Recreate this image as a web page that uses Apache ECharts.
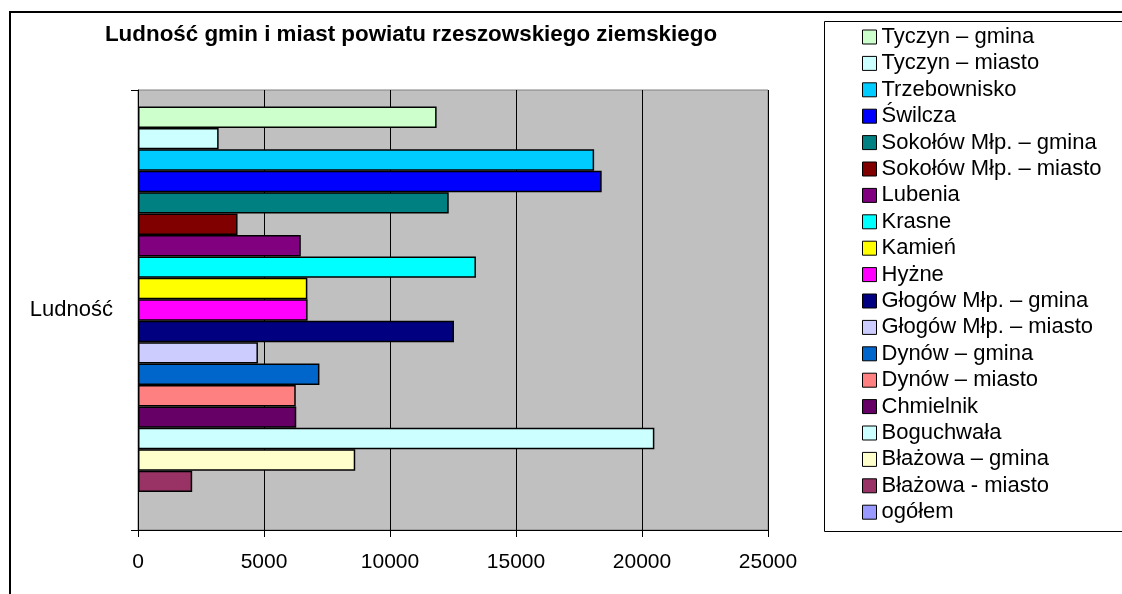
<!DOCTYPE html>
<html>
<head>
<meta charset="utf-8">
<script src="https://cdn.jsdelivr.net/npm/echarts@6/dist/echarts.min.js"></script>
<style>
html,body{margin:0;padding:0;background:#fff;}
#c{width:1122px;height:594px;}
</style>
</head>
<body>
<div id="c"></div>
<script>
var titleText = 'Ludność gmin i miast powiatu rzeszowskiego ziemskiego';
var categories = ['Ludność'];
// legend order (top to bottom), same as bar order top to bottom
var seriesNames = ['Tyczyn – gmina','Tyczyn – miasto','Trzebownisko','Świlcza','Sokołów Młp. – gmina','Sokołów Młp. – miasto','Lubenia','Krasne','Kamień','Hyżne','Głogów Młp. – gmina','Głogów Młp. – miasto','Dynów – gmina','Dynów – miasto','Chmielnik','Boguchwała','Błażowa – gmina','Błażowa - miasto','ogółem'];
var seriesValues = [11850, 3200, 18100, 18400, 12330, 3950, 6460, 13410, 6720, 6730, 12540, 4760, 7200, 6260, 6280, 20490, 8620, 2150, null];
var seriesColors = ['#CCFFCC','#CCFFFF','#00CCFF','#0000FF','#008080','#800000','#800080','#00FFFF','#FFFF00','#FF00FF','#000080','#CCCCFF','#0066CC','#FF8080','#660066','#CCFFFF','#FFFFCC','#993366','#9999FF'];
var xTicks = [0, 5000, 10000, 15000, 20000, 25000];

var chart = echarts.init(document.getElementById('c'));
var series = [];
for (var i = 0; i < seriesNames.length; i++) {
  series.push({
    name: seriesNames[i],
    type: 'bar',
    data: [seriesValues[i]],
    barGap: '0%',
    barCategoryGap: '7.5%',
    itemStyle: {color: seriesColors[i], borderColor: '#000', borderWidth: 1.5},
    emphasis: {disabled: true},
    animation: false
  });
}
chart.setOption({
  animation: false,
  backgroundColor: '#fff',
  title: {
    text: titleText,
    left: 406, top: 19, textAlign: 'center',
    textStyle: {fontFamily: 'Liberation Sans, Arial', fontWeight: 'bold', fontSize: 22.4, color: '#000'}
  },
  graphic: [
    {type: 'rect', shape: {x: 10, y: 12, width: 1130, height: 600}, style: {fill: null, stroke: '#000', lineWidth: 2}, z: -1},
    {type: 'rect', shape: {x: 824.5, y: 21.5, width: 320, height: 510}, style: {fill: '#fff', stroke: '#000', lineWidth: 1}, z: 0}
  ],
  legend: {
    data: seriesNames,
    orient: 'vertical',
    left: 862, top: 24, padding: 0,
    itemWidth: 14, itemHeight: 14, itemGap: 0.4,
    icon: 'rect',
    selectedMode: false,
    itemStyle: {borderColor: '#000', borderWidth: 1},
    textStyle: {fontFamily: 'Liberation Sans, Arial', fontSize: 22, color: '#000', lineHeight: 26},
    z: 5
  },
  grid: {
    left: 138, right: 354, top: 90, bottom: 64,
    show: true, backgroundColor: '#C0C0C0', borderColor: '#808080', borderWidth: 1
  },
  xAxis: {
    type: 'value', min: 0, max: 25000, interval: 5000,
    axisLine: {show: true, lineStyle: {color: '#000', width: 1}},
    axisTick: {show: true, length: 7, lineStyle: {color: '#000'}},
    axisLabel: {fontFamily: 'Liberation Sans, Arial', fontSize: 21, color: '#000', margin: 22,
      formatter: function (v) { return xTicks.indexOf(v) >= 0 ? String(v) : ''; }},
    splitLine: {show: true, lineStyle: {color: '#000', width: 1}}
  },
  yAxis: {
    type: 'category', data: categories,
    axisLine: {show: true, lineStyle: {color: '#000', width: 1}},
    axisTick: {show: true, length: 7, lineStyle: {color: '#000'}},
    axisLabel: {fontFamily: 'Liberation Sans, Arial', fontSize: 22, color: '#000', margin: 25},
    splitLine: {show: false}
  },
  series: series
});
</script>
</body>
</html>
